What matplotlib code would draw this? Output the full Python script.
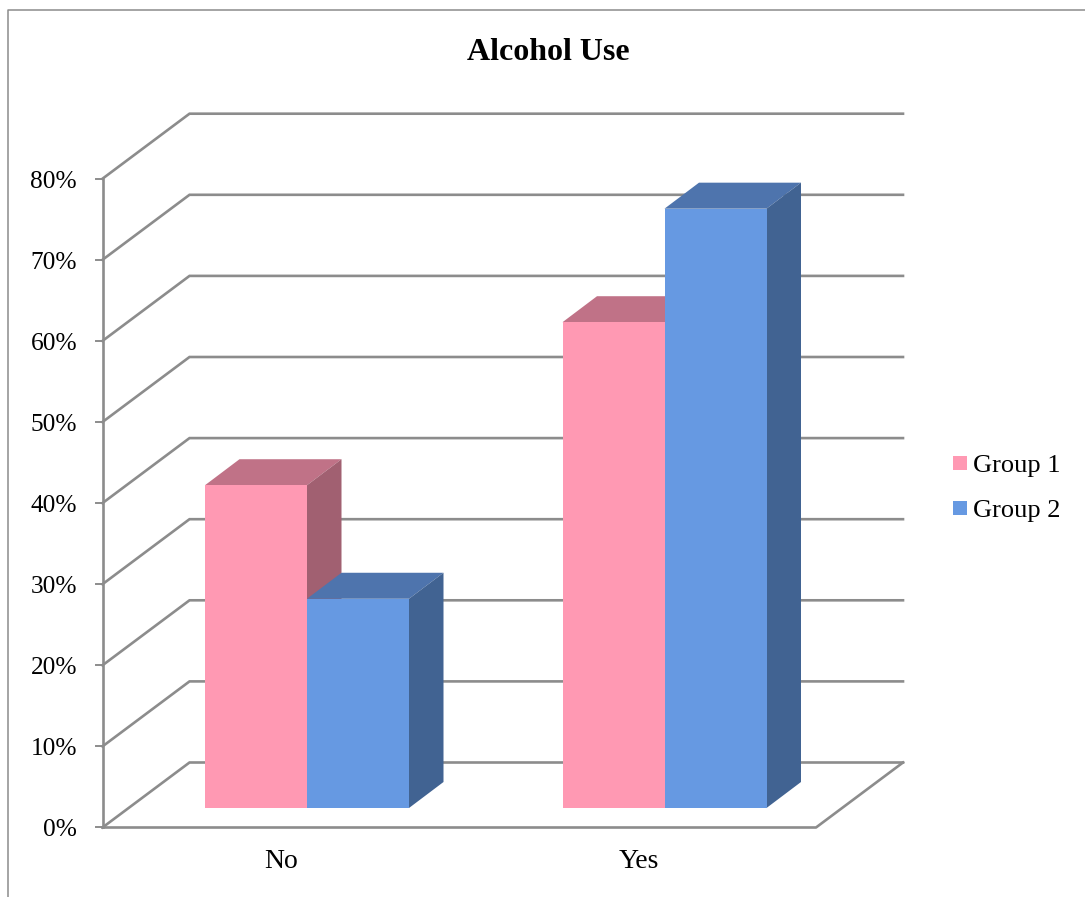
import matplotlib
matplotlib.use('Agg')
import matplotlib.pyplot as plt
from matplotlib.patches import Polygon, Rectangle

categories = ['No', 'Yes']
series_names = ['Group 1', 'Group 2']
group1 = [39.8, 59.9]
group2 = [25.8, 73.9]
y_ticks = [0, 10, 20, 30, 40, 50, 60, 70, 80]

plt.rcParams['font.family'] = ['Liberation Serif', 'DejaVu Serif']

GRAY = '#8c8c8c'
PINK = ['#ff99b3', '#c07287', '#a16071']
BLUE = ['#6699e2', '#4e74ad', '#416392']

fig = plt.figure(figsize=(10.85, 8.97), dpi=100)
ax = fig.add_axes([0, 0, 1, 1])
ax.set_xlim(0, 1085)
ax.set_ylim(897, 0)
ax.axis('off')

# geometry of the 3D box, in pixels
x0, y0 = 102.5, 827.5
px_per_pct = 8.11
dx_wall, dy_wall = 87, 65
x_floor_right = 816
bar_w = 102
bar_lefts = [205, 562.5]
bar_base = 808
dx_bar, dy_bar = 34.5, 26


def val_y(v):
    return y0 - v * px_per_pct


# outer frame, cut by the image edges
ax.plot([8, 8, 1085], [897, 10, 10], color=GRAY, lw=1.1, zorder=1)

# walls and gridlines
for t in y_ticks:
    y = val_y(t)
    ax.plot([x0, x0 + dx_wall, x_floor_right + dx_wall],
            [y, y - dy_wall, y - dy_wall], color=GRAY, lw=1.9, zorder=1,
            solid_joinstyle='miter')
    ax.plot([x0 - 7, x0], [y, y], color=GRAY, lw=1.4, zorder=1)
    ax.text(77, y + 3, f'{t}%', fontsize=18.3, ha='right', va='center', color='black')

ax.plot([x0, x0], [val_y(80), y0], color=GRAY, lw=1.9, zorder=1)
ax.plot([x0, x_floor_right, x_floor_right + dx_wall],
        [y0, y0, y0 - dy_wall], color=GRAY, lw=1.9, zorder=1)


def draw_bar(left, value, cols, z):
    top = bar_base - value * px_per_pct
    right = left + bar_w
    ax.add_patch(Polygon([(left, top), (left + dx_bar, top - dy_bar),
                          (right + dx_bar, top - dy_bar), (right, top)],
                         facecolor=cols[1], edgecolor='none', zorder=z))
    ax.add_patch(Polygon([(right, top), (right + dx_bar, top - dy_bar),
                          (right + dx_bar, bar_base - dy_bar), (right, bar_base)],
                         facecolor=cols[2], edgecolor='none', zorder=z))
    ax.add_patch(Rectangle((left, top), bar_w, bar_base - top,
                           facecolor=cols[0], edgecolor='none', zorder=z + 0.1))


for i, left in enumerate(bar_lefts):
    draw_bar(left, group1[i], PINK, 2)
    draw_bar(left + bar_w, group2[i], BLUE, 3)
    ax.text(left + bar_w - 26, 861, categories[i], fontsize=20, ha='center',
            va='center', color='black')

ax.text(548, 52, 'Alcohol Use', fontsize=23, fontweight='bold', ha='center',
        va='center', color='black')

# legend
for name, cols, y in zip(series_names, [PINK, BLUE], [463, 508]):
    ax.add_patch(Rectangle((953, y - 7), 14, 14, facecolor=cols[0], edgecolor='none'))
    ax.text(973, y + 3, name, fontsize=19, ha='left', va='center', color='black')

fig.savefig('out.png', dpi=100)
